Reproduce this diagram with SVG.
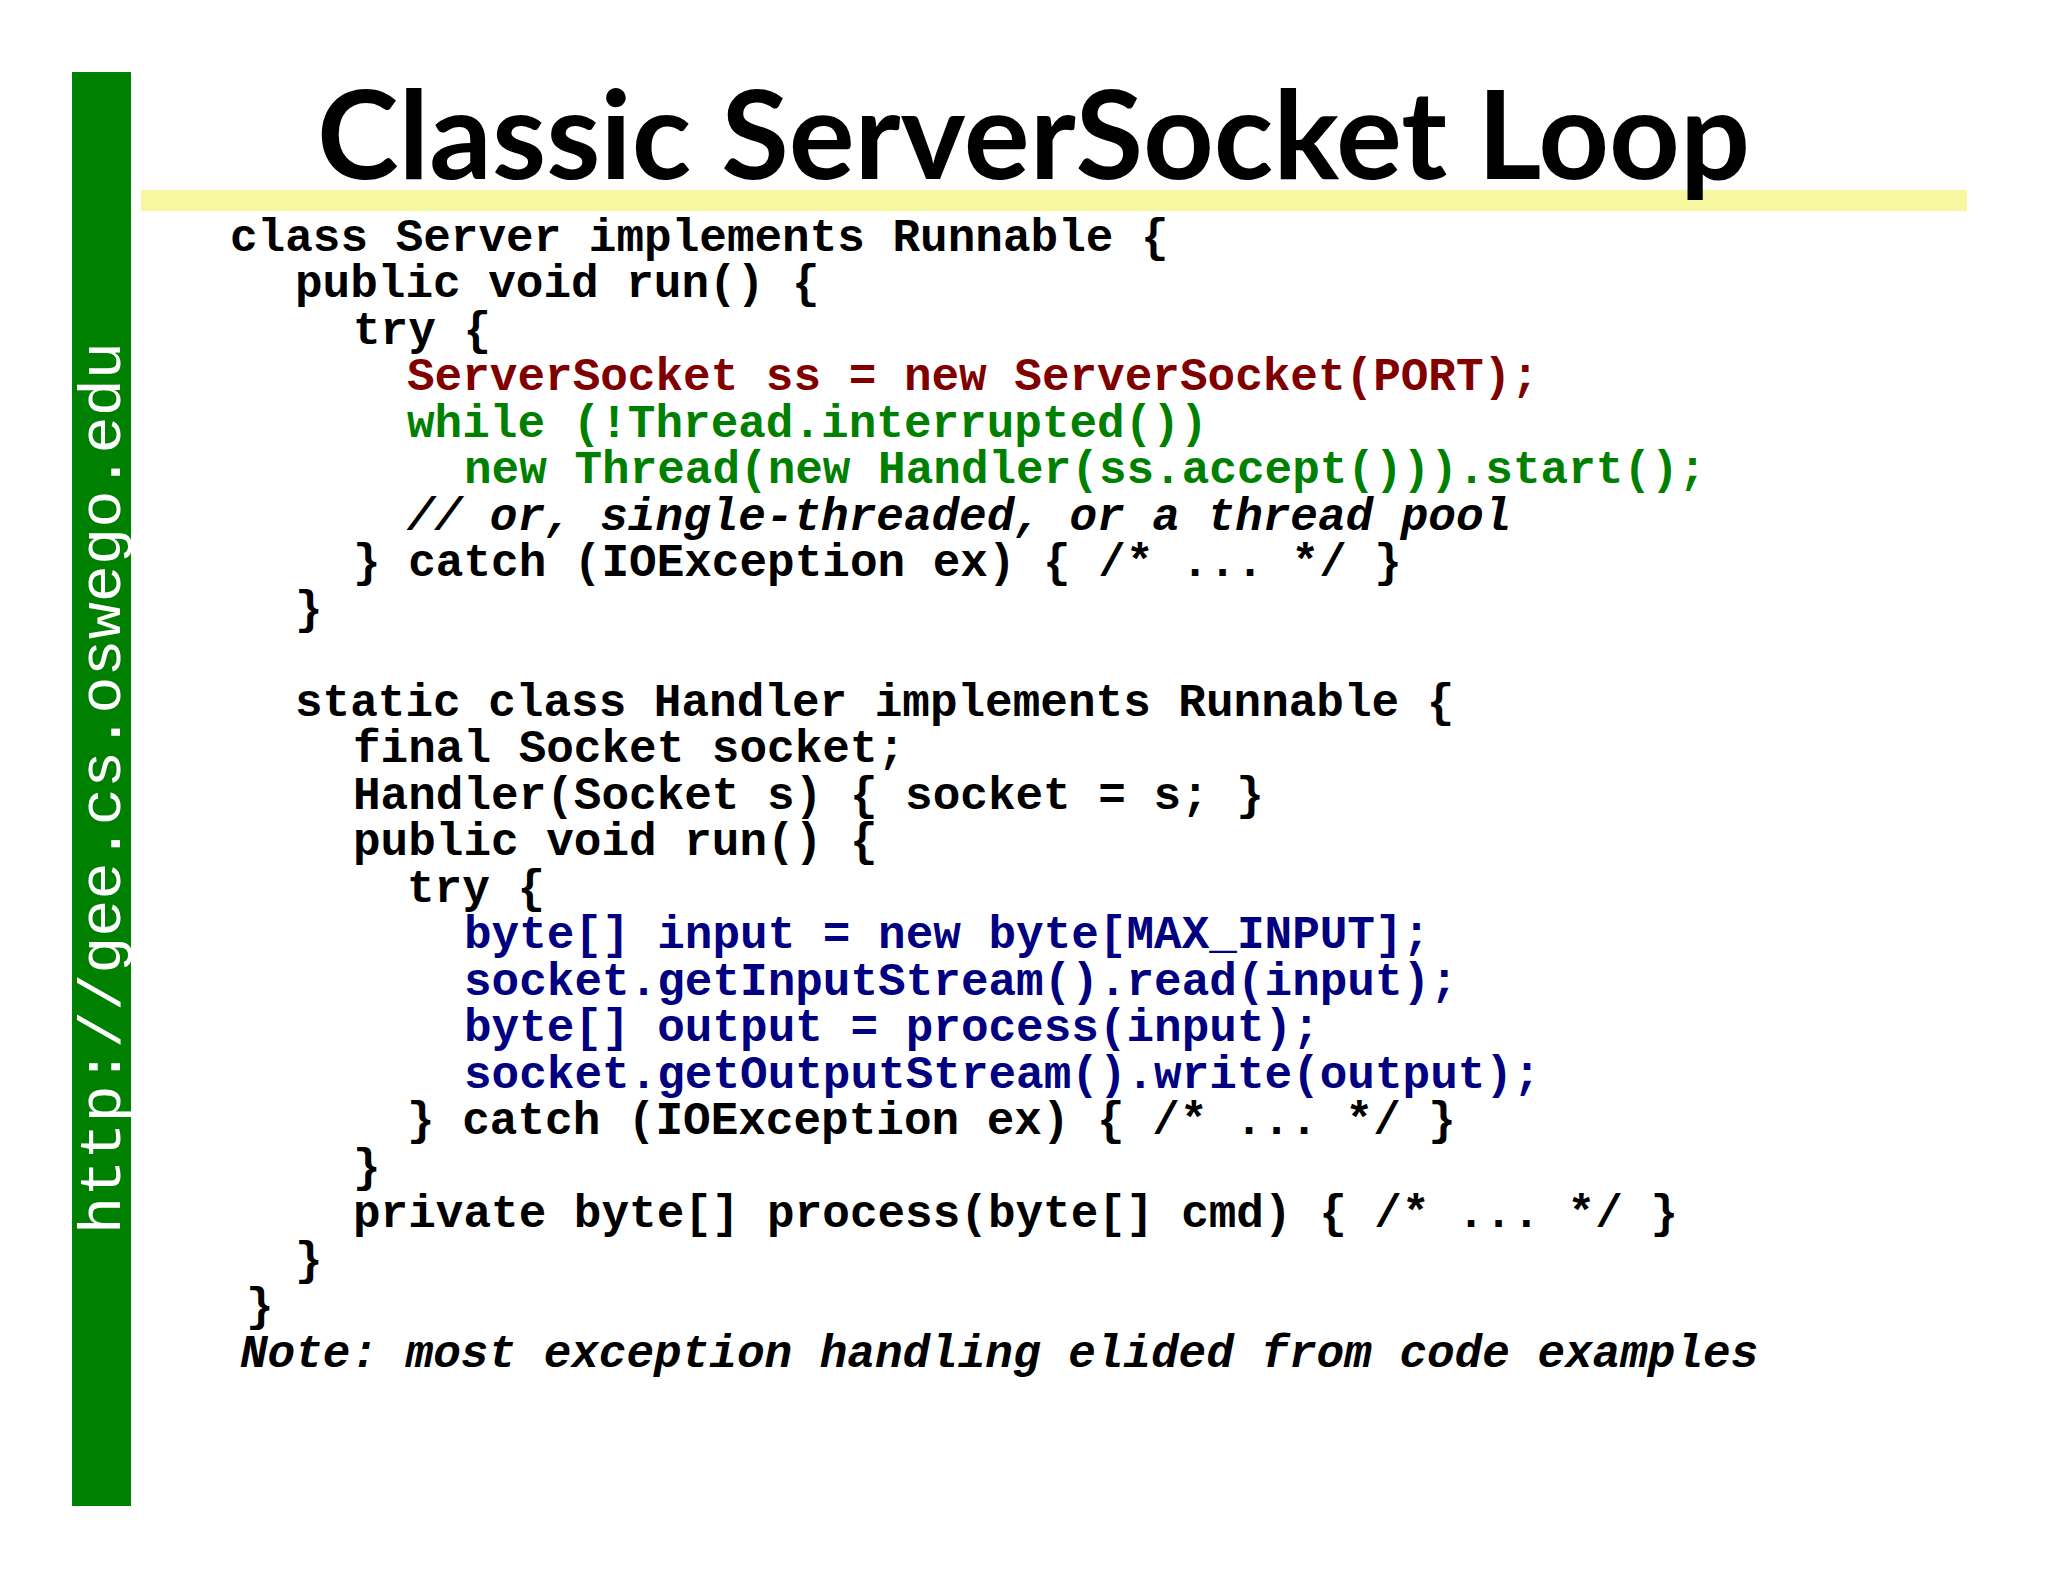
<svg xmlns="http://www.w3.org/2000/svg" width="2048" height="1582" viewBox="0 0 2048 1582">
<style>
.c{font-family:"Liberation Mono","Courier New",monospace;font-weight:bold;font-size:46px;fill:#000}
.r{fill:#800000}.g{fill:#008000}.b{fill:#000080}.i{font-style:italic}
</style>
<rect width="2048" height="1582" fill="#fff"/>
<g id="sidebar">
<rect x="72" y="72" width="59" height="1434" fill="#008000"/>
<text transform="translate(120,1234) rotate(-90)" font-family="Liberation Mono,monospace" font-size="60" fill="#fff" textLength="892" lengthAdjust="spacingAndGlyphs">http://gee.cs.oswego.edu</text>
</g>
<g id="title">
<rect x="141" y="190" width="1826" height="21" fill="#f7f7a0"/>
<text x="317" y="179" font-family="Lato,'Open Sans',sans-serif" font-weight="bold" font-size="122" textLength="1433" lengthAdjust="spacingAndGlyphs">Classic ServerSocket Loop</text>
</g>
<g id="code" class="c">
<text class="c" x="230" y="251">class Server implements Runnable {</text>
<text class="c" x="295" y="297">public void run() {</text>
<text class="c" x="353" y="344">try {</text>
<text class="c r" x="407" y="390">ServerSocket ss = new ServerSocket(PORT);</text>
<text class="c g" x="407" y="437">while (!Thread.interrupted())</text>
<text class="c g" x="464" y="483">new Thread(new Handler(ss.accept())).start();</text>
<text class="c i" x="407" y="530">// or, single-threaded, or a thread pool</text>
<text class="c" x="353" y="576">} catch (IOException ex) { /* ... */ }</text>
<text class="c" x="295" y="623">}</text>
<text class="c" x="295" y="716">static class Handler implements Runnable {</text>
<text class="c" x="353" y="762">final Socket socket;</text>
<text class="c" x="353" y="809">Handler(Socket s) { socket = s; }</text>
<text class="c" x="353" y="855">public void run() {</text>
<text class="c" x="407" y="902">try {</text>
<text class="c b" x="464" y="948">byte[] input = new byte[MAX_INPUT];</text>
<text class="c b" x="464" y="995">socket.getInputStream().read(input);</text>
<text class="c b" x="464" y="1041">byte[] output = process(input);</text>
<text class="c b" x="464" y="1088">socket.getOutputStream().write(output);</text>
<text class="c" x="407" y="1134">} catch (IOException ex) { /* ... */ }</text>
<text class="c" x="353" y="1181">}</text>
<text class="c" x="353" y="1227">private byte[] process(byte[] cmd) { /* ... */ }</text>
<text class="c" x="295" y="1274">}</text>
<text class="c" x="246" y="1320">}</text>
<text class="c i" x="240" y="1367">Note: most exception handling elided from code examples</text>
</g>
</svg>
